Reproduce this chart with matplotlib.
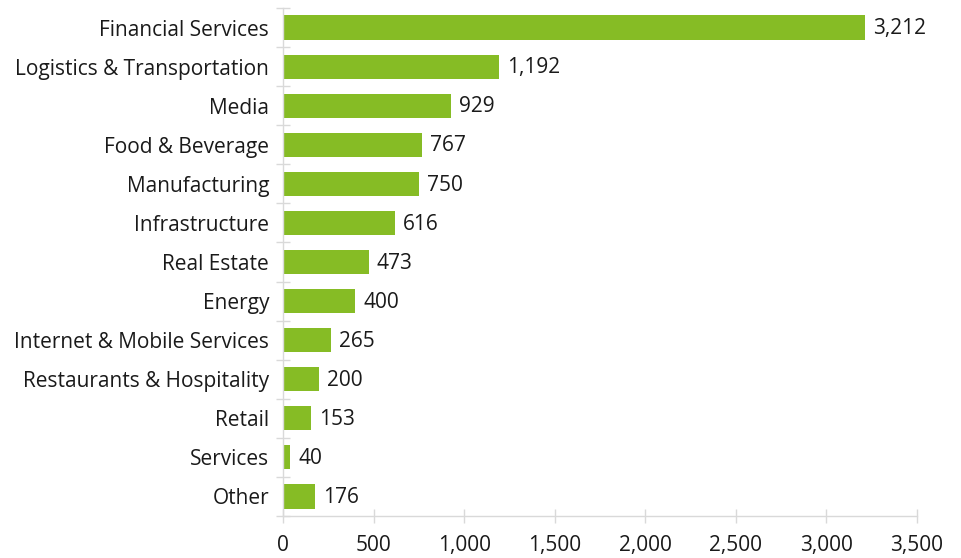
import matplotlib
matplotlib.use("Agg")
import matplotlib.pyplot as plt
from matplotlib.ticker import FuncFormatter, FixedLocator
import numpy as np

plt.rcParams['font.family'] = ['Open Sans', 'DejaVu Sans']

categories = ["Financial Services", "Logistics & Transportation", "Media",
              "Food & Beverage", "Manufacturing", "Infrastructure", "Real Estate",
              "Energy", "Internet & Mobile Services", "Restaurants & Hospitality",
              "Retail", "Services", "Other"]
values = [3212, 1192, 929, 767, 750, 616, 473, 400, 265, 200, 153, 40, 176]

GREEN = "#86bc25"
GRID = "#d9d9d9"
TEXT = "#1a1a1a"
FS = 15

fig = plt.figure(figsize=(9.61, 5.58), dpi=100)
ax = fig.add_axes([283 / 961, 1 - 516 / 558, (917 - 283) / 961, (516 - 8) / 558])

n = len(categories)
y = np.arange(n)
ax.barh(y, values, height=0.62, color=GREEN)
for yi, v in zip(y, values):
    ax.text(v + 45, yi + 0.03, f"{v:,}", va="center", ha="left", fontsize=FS, color=TEXT)

ax.set_ylim(n - 0.5, -0.5)
ax.set_xlim(0, 3500)
ax.set_xticks(np.arange(0, 3501, 500))
ax.xaxis.set_major_formatter(FuncFormatter(lambda x, p: f"{int(x):,}"))

# category labels in the middle, tick marks on the boundaries
ax.set_yticks(y)
ax.set_yticklabels(categories)
ax.yaxis.set_minor_locator(FixedLocator(np.arange(-0.5, n, 1.0)))
ax.tick_params(axis="y", which="major", length=0, pad=10, labelsize=FS, labelcolor=TEXT)
ax.tick_params(axis="y", which="minor", length=10, direction="inout", color=GRID, width=1)
ax.tick_params(axis="x", length=10, direction="inout", color=GRID, width=1,
               pad=9, labelsize=FS, labelcolor=TEXT)

for s in ["top", "right"]:
    ax.spines[s].set_visible(False)
for s in ["left", "bottom"]:
    ax.spines[s].set_color(GRID)
    ax.spines[s].set_linewidth(1)

fig.savefig("out.png", dpi=100)
